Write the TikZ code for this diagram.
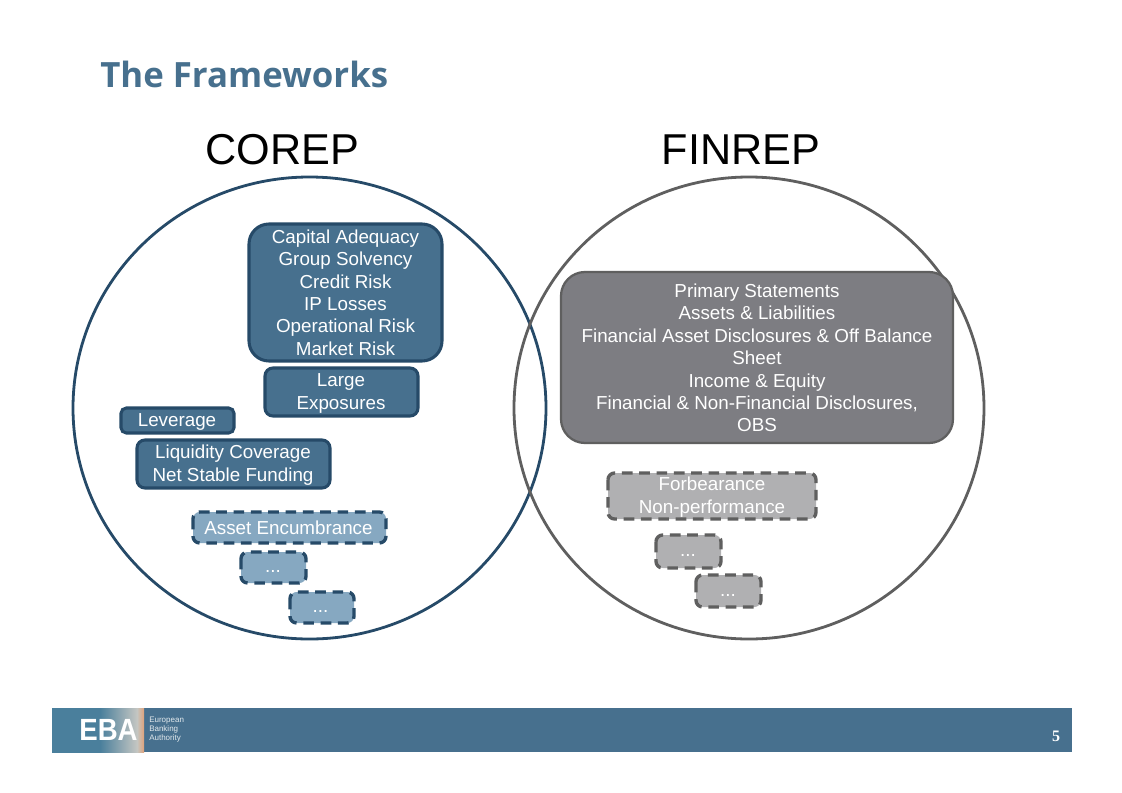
\documentclass[tikz,border=0pt]{standalone}
\usepackage{fontspec}
\setmainfont{Liberation Sans}
\newfontfamily\titlefont{Open Sans}
\newfontfamily\pagefont{Liberation Serif}
\definecolor{ebablue}{HTML}{47708E}
\definecolor{ebadark}{HTML}{264A68}
\definecolor{ebalight}{HTML}{86A8C1}
\definecolor{grayfill}{HTML}{7D7D82}
\definecolor{grayline}{HTML}{5F5F5F}
\definecolor{graylight}{HTML}{B0B0B2}
\definecolor{logoa}{HTML}{4A7F9C}
\definecolor{logob}{HTML}{C4C6C2}
\definecolor{logoc}{HTML}{E0A27A}
\tikzset{
  x=0.75pt,y=-0.75pt,
  boxtext/.style={font=\fontsize{14.1pt}{16.8pt}\selectfont,text=white,align=center,inner sep=0pt},
  solidblue/.style={draw=ebadark,line width=2.3pt,fill=ebablue,rounded corners=6pt},
  dashblue/.style={draw=ebadark,line width=2.5pt,fill=ebalight,rounded corners=5pt,dash pattern=on 8pt off 5pt},
  solidgray/.style={draw=grayline,line width=1.7pt,fill=grayfill,rounded corners=18pt},
  dashgray/.style={draw=grayline,line width=2.5pt,fill=graylight,rounded corners=5pt,dash pattern=on 8pt off 5pt},
  head/.style={font=\fontsize{32.4pt}{36pt}\selectfont,inner sep=0pt,text=black},
}
\begin{document}
\begin{tikzpicture}
\useasboundingbox (0,0) rectangle (1122,793);
\fill[white] (0,0) rectangle (1122,793);
\node[anchor=west,inner sep=0pt,font=\titlefont\bfseries\fontsize{26.1pt}{30pt}\selectfont,text=ebablue] (title) at (100,74) {The Frameworks};
\node[head] (corep) at (282.5,150) {COREP};
\node[head] (finrep) at (741,150) {FINREP};
% circles
\draw[draw=ebadark,line width=2.1pt] (309.5,408) ellipse [x radius=236.5*0.75pt,y radius=231*0.75pt];
\draw[draw=grayline,line width=2.1pt] (749,408) ellipse [x radius=235*0.75pt,y radius=231*0.75pt];
% COREP
\draw[solidblue,rounded corners=15pt] (249,224) rectangle (442,361);
\node[boxtext] (capital) at (345.5,292.5) {Capital Adequacy\\Group Solvency\\Credit Risk\\IP Losses\\Operational Risk\\Market Risk};
\draw[solidblue] (265,368) rectangle (418,416);
\node[boxtext] (large) at (341,393.5) {Large\\Exposures};
\draw[solidblue,rounded corners=4pt] (121,408) rectangle (234,433);
\node[boxtext] (leverage) at (177,422) {Leverage};
\draw[solidblue] (137,440) rectangle (330,488);
\node[boxtext] (liquidity) at (233,465) {Liquidity Coverage\\Net Stable Funding};
\draw[dashblue] (193,512) rectangle (386,543);
\node[boxtext] (asset) at (288.5,528) {Asset Encumbrance};
\draw[dashblue] (241,552) rectangle (306,583);
\node[boxtext] (dotsa) at (273,571) {...};
\draw[dashblue] (290,592) rectangle (354,623);
\node[boxtext] (dotsb) at (320.5,611) {...};
% FINREP
\draw[solidgray] (561,272) rectangle (953,443);
\node[boxtext] (primary) at (757,358) {Primary Statements\\Assets \& Liabilities\\Financial Asset Disclosures \& Off Balance\\Sheet\\Income \& Equity\\Financial \& Non-Financial Disclosures,\\OBS};
\draw[dashgray] (608,473) rectangle (816,519);
\node[boxtext] (forb) at (712,497) {Forbearance\\Non-performance};
\draw[dashgray] (656,535) rectangle (721,568);
\node[boxtext] (dotsc) at (688,555) {...};
\draw[dashgray] (696,575) rectangle (761,607);
\node[boxtext] (dotsd) at (728,595) {...};
% footer
\fill[ebablue] (52,708) rectangle (1072,752);
\shade[left color=logoa,right color=logoa] (52,708) rectangle (100,752);
\shade[left color=logoa,right color=logob] (100,708) rectangle (137,752);
\shade[left color=logob,right color=logoc] (137,708) rectangle (144,752);
\node[inner sep=0pt,font=\fontsize{23pt}{24pt}\selectfont\bfseries,text=white] (eba) at (108.5,730) {\scalebox{0.9}[1]{EBA}};
\node[anchor=west,inner sep=0pt,align=left,font=\fontsize{6pt}{6.9pt}\selectfont,text=white!85!ebablue] (auth) at (149,729.5) {European\\Banking\\Authority};
\node[inner sep=0pt,font=\pagefont\fontsize{12pt}{12pt}\selectfont\bfseries,text=white] (page) at (1056,736) {5};
\end{tikzpicture}
\end{document}
